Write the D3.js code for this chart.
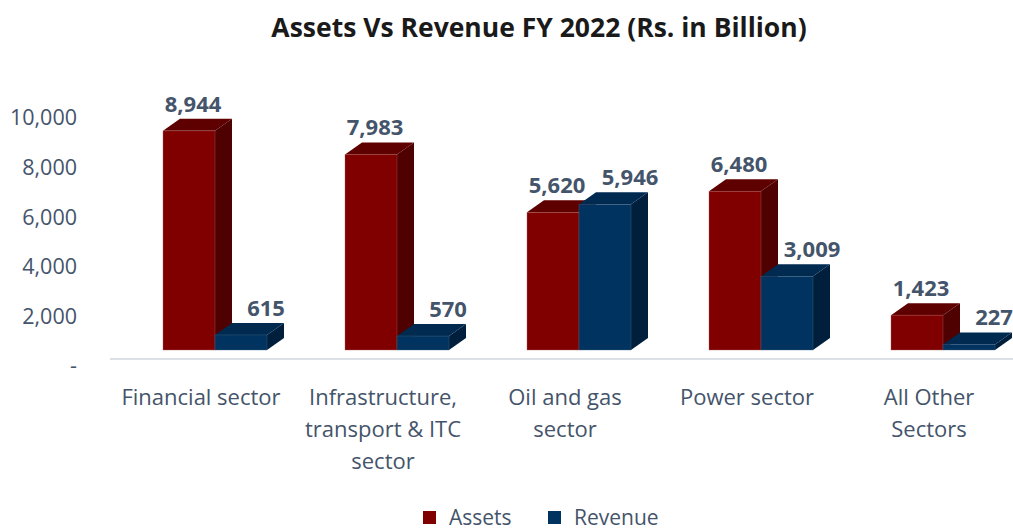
<!DOCTYPE html>
<html>
<head>
<meta charset="utf-8">
<script src="https://cdn.jsdelivr.net/npm/d3@7"></script>
<style>
  body { margin: 0; background: #fff; }
  text { font-family: "Open Sans", "Noto Sans", sans-serif; }
</style>
</head>
<body>
<svg id="chart" width="1013" height="531"></svg>
<script>
var categories = [
  ["Financial sector"],
  ["Infrastructure,", "transport & ITC", "sector"],
  ["Oil and gas", "sector"],
  ["Power sector"],
  ["All Other", "Sectors"]
];
var series = ["Assets", "Revenue"];
var assets = [8944, 7983, 5620, 6480, 1423];
var revenue = [615, 570, 5946, 3009, 227];
var yTicks = [0, 2000, 4000, 6000, 8000, 10000];

var colors = {
  Assets: {front: "#800000", side: "#4f0000", top: "#5e0000", edge: "#b06060", lab: 4},
  Revenue: {front: "#00335f", side: "#001f3d", top: "#002a50", edge: "#4a6a8a", lab: 25}
};

var svg = d3.select("#chart"),
    depthX = 17, depthY = -12,
    barW = 52;

var x = d3.scaleBand()
    .domain(d3.range(categories.length))
    .range([110, 1020]);

// front face scale of the bars
var y = d3.scaleLinear()
    .domain([0, 10000])
    .range([350, 105]);

// axis labels sit a little lower than the bar fronts (3D wall)
var yLab = d3.scaleLinear()
    .domain([0, 10000])
    .range([366, 118]);

var fmt = d3.format(",");

// title
svg.append("text")
    .attr("x", 539).attr("y", 37)
    .attr("text-anchor", "middle")
    .attr("font-size", 26.5).attr("font-weight", "bold")
    .attr("fill", "#1a1a1a")
    .text("Assets Vs Revenue FY 2022 (Rs. in Billion)");

// y axis
var yAxis = d3.axisLeft(yLab)
    .tickValues(yTicks)
    .tickSize(0)
    .tickFormat(function(d) { return d === 0 ? "-" : fmt(d); });

svg.append("g")
    .attr("transform", "translate(86,0)")
    .call(customYAxis);

function customYAxis(g) {
  g.call(yAxis);
  g.select(".domain").remove();
  g.selectAll(".tick text")
      .attr("x", -9)
      .attr("fill", "#44546a")
      .attr("font-size", 21.5)
      .attr("font-family", "'Open Sans', sans-serif");
}

// floor line
svg.append("line")
    .attr("x1", 110).attr("x2", 1013)
    .attr("y1", 359).attr("y2", 359)
    .attr("stroke", "#dde1e6").attr("stroke-width", 2);

// bars
var bars = [];
categories.forEach(function(c, i) {
  [assets[i], revenue[i]].forEach(function(v, j) {
    bars.push({i: i, s: series[j], v: v,
      x0: x(i) + x.bandwidth() / 2 - 38 + j * barW});
  });
});

var g = svg.append("g");
bars.forEach(function(b) {
  var col = colors[b.s],
      x0 = b.x0, x1 = b.x0 + barW,
      yt = y(b.v), yb = y(0),
      bg = g.append("g");
  // side
  bg.append("path")
      .attr("d", "M" + x1 + "," + yt + "L" + (x1 + depthX) + "," + (yt + depthY) +
        "L" + (x1 + depthX) + "," + (yb + depthY) + "L" + x1 + "," + yb + "Z")
      .attr("fill", col.side);
  // top
  bg.append("path")
      .attr("d", "M" + x0 + "," + yt + "L" + (x0 + depthX) + "," + (yt + depthY) +
        "L" + (x1 + depthX) + "," + (yt + depthY) + "L" + x1 + "," + yt + "Z")
      .attr("fill", col.top);
  // front
  bg.append("rect")
      .attr("x", x0).attr("y", yt)
      .attr("width", barW).attr("height", yb - yt)
      .attr("fill", col.front)
      .attr("stroke", col.edge).attr("stroke-width", 0.6).attr("stroke-opacity", 0.6);
});

// data labels
g.selectAll(".dlabel")
  .data(bars)
  .enter().append("text")
    .attr("class", "dlabel")
    .attr("x", function(d) { return d.x0 + barW / 2 + colors[d.s].lab; })
    .attr("y", function(d) { return y(d.v) - 19; })
    .attr("text-anchor", "middle")
    .attr("font-size", 22).attr("font-weight", "bold")
    .attr("fill", "#44546a")
    .text(function(d) { return fmt(d.v); });

// category labels
var cat = svg.append("g").selectAll("text")
  .data(categories)
  .enter().append("text")
    .attr("text-anchor", "middle")
    .attr("font-size", 22)
    .attr("fill", "#44546a");

cat.selectAll("tspan")
  .data(function(d, i) { return d.map(function(t) { return {t: t, i: i}; }); })
  .enter().append("tspan")
    .attr("x", function(d) { return x(d.i) + x.bandwidth() / 2; })
    .attr("y", function(d, k) { return 405 + k * 32; })
    .text(function(d) { return d.t; });

// legend
var leg = svg.append("g").attr("transform", "translate(423,510)");
series.forEach(function(s, k) {
  var lx = k * 125;
  leg.append("rect")
      .attr("x", lx).attr("y", 1)
      .attr("width", 13).attr("height", 13)
      .attr("fill", colors[s].front);
  leg.append("text")
      .attr("x", lx + 26).attr("y", 15)
      .attr("font-size", 21)
      .attr("fill", "#44546a")
      .text(s);
});
</script>
</body>
</html>
